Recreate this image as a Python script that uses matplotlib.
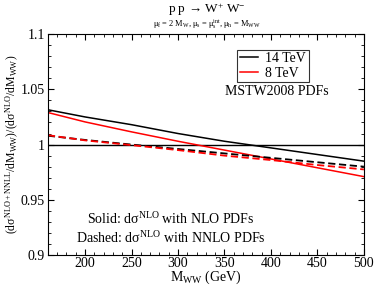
import numpy as np
import matplotlib
matplotlib.use('Agg')
import matplotlib.pyplot as plt
from matplotlib.ticker import MultipleLocator

plt.rcParams['font.family'] = ['Liberation Serif', 'DejaVu Serif']
plt.rcParams['mathtext.fontset'] = 'custom'
plt.rcParams['mathtext.rm'] = 'Liberation Serif'
plt.rcParams['mathtext.it'] = 'Liberation Serif:italic'
plt.rcParams['mathtext.default'] = 'rm'

mww = [160, 200, 250, 300, 350, 400, 450, 500]
nlo_14 = [1.0315, 1.025, 1.018, 1.010, 1.003, 0.997, 0.991, 0.985]
nlo_8 = [1.029, 1.0205, 1.0115, 1.003, 0.995, 0.987, 0.979, 0.971]
nnlo_14 = [1.008, 1.0042, 1.0, 0.996, 0.992, 0.988, 0.984, 0.980]
nnlo_8 = [1.0085, 1.0038, 0.9995, 0.995, 0.990, 0.986, 0.9815, 0.9775]

fig = plt.figure(figsize=(3.74, 2.86), dpi=100)
ax = fig.add_axes([0.128, 0.108, 0.845, 0.773])

ax.axhline(1.0, color='black', lw=1.0)
ax.plot(mww, nlo_14, color='black', lw=1.1, label='14 TeV')
ax.plot(mww, nlo_8, color='red', lw=1.1, label='8 TeV')
ax.plot(mww, nnlo_14, color='black', lw=1.3, ls=(0, (4, 2)))
ax.plot(mww, nnlo_8, color='red', lw=1.3, ls=(0, (4, 2)))

ax.set_xlim(160, 500)
ax.set_ylim(0.9, 1.1)
ax.xaxis.set_major_locator(MultipleLocator(50))
ax.xaxis.set_minor_locator(MultipleLocator(10))
ax.yaxis.set_major_locator(MultipleLocator(0.05))
ax.yaxis.set_minor_locator(MultipleLocator(0.01))
ax.tick_params(which='both', direction='in', top=True, right=True, labelsize=10)
ax.tick_params(which='major', length=4)
ax.tick_params(which='minor', length=2)
ax.tick_params(axis='x', pad=1.5)
ax.tick_params(axis='y', pad=2)
ax.set_yticks([0.9, 0.95, 1.0, 1.05, 1.1])
ax.set_yticklabels(['0.9', '0.95', '1', '1.05', '1.1'])

ax.set_xlabel(r'$\mathrm{M_{WW}}$ (GeV)', fontsize=10, labelpad=-1)
ax.set_ylabel(r'$(\mathrm{d}\sigma^{\mathrm{NLO+NNLL}}/\mathrm{dM_{WW}})/(\mathrm{d}\sigma^{\mathrm{NLO}}/\mathrm{dM_{WW}})$',
              fontsize=8.5, labelpad=0)

leg = ax.legend(loc='upper left', bbox_to_anchor=(0.6, 0.93), fontsize=10,
                frameon=True, fancybox=False, edgecolor='black',
                handlelength=1.3, handletextpad=0.5, borderpad=0.2,
                labelspacing=0.1, borderaxespad=0)
leg.get_frame().set_linewidth(0.8)

ax.text(0.56, 0.74, 'MSTW2008 PDFs', transform=ax.transAxes, fontsize=10, va='center')
ax.text(0.125, 0.165, r'Solid: d$\sigma^{\mathrm{NLO}}$ with NLO PDFs',
        transform=ax.transAxes, fontsize=10, va='center')
ax.text(0.09, 0.075, r'Dashed: d$\sigma^{\mathrm{NLO}}$ with NNLO PDFs',
        transform=ax.transAxes, fontsize=10, va='center')

fig.text(0.553, 0.968, r'p p$\,\rightarrow\,$W$^{+}$ W$^{-}$', ha='center', va='center', fontsize=9.5)
fig.text(0.553, 0.918, r'$\mu_f$ = 2 M$_W$, $\mu_s$ = $\mu_s^{int}$, $\mu_h$ = M$_{WW}$',
         ha='center', va='center', fontsize=6)

fig.savefig('out.png', dpi=100)
